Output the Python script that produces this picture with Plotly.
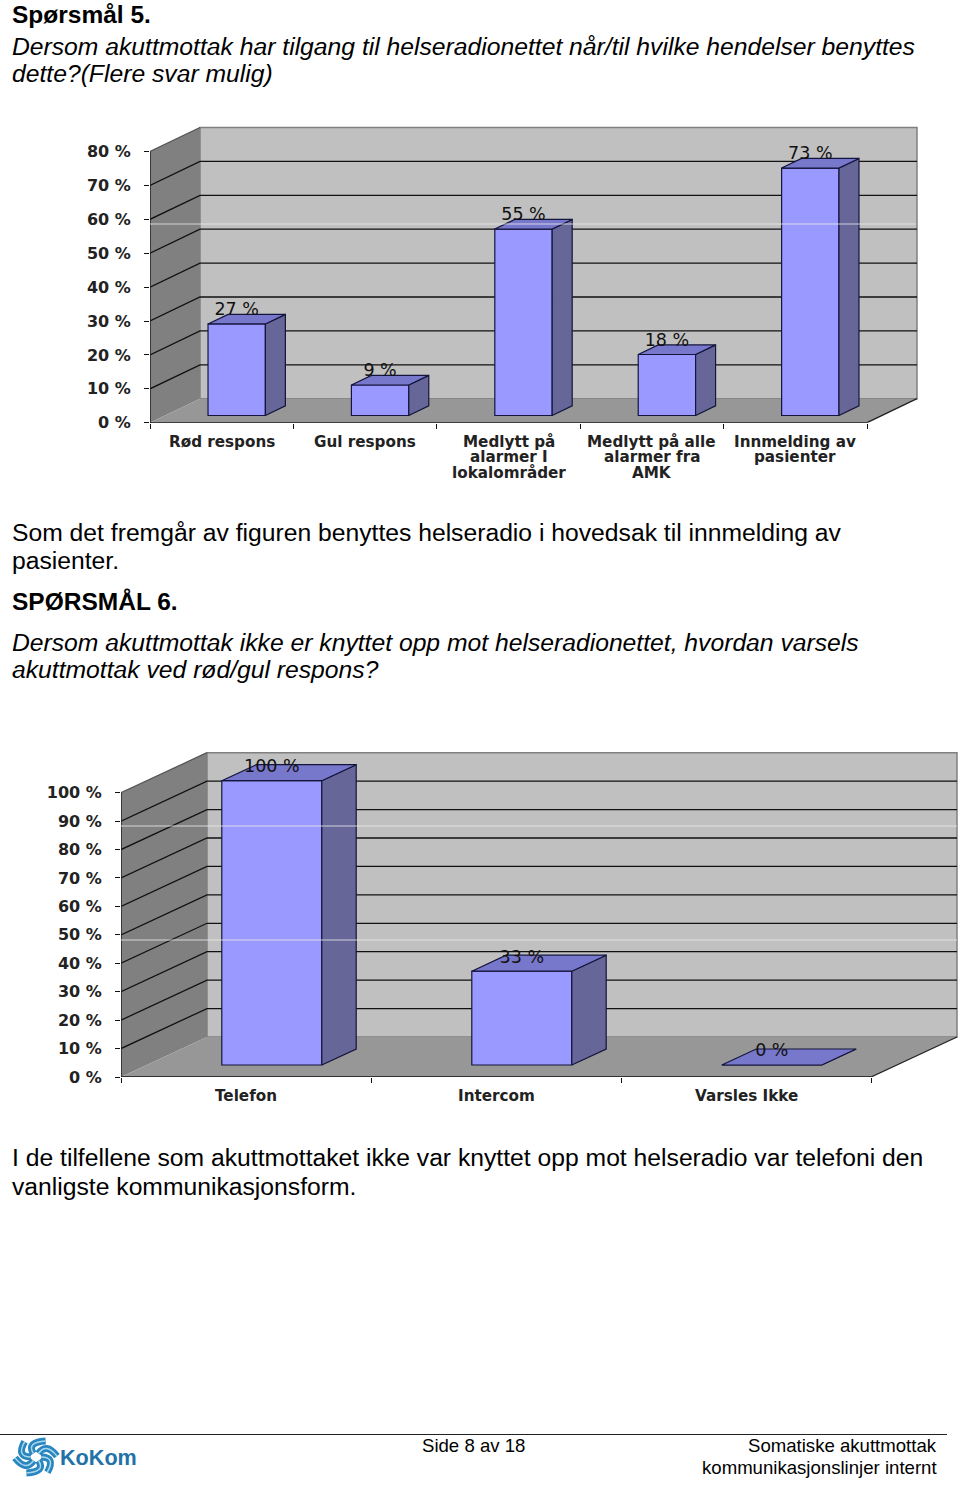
import math
import plotly.graph_objects as go

# chart data
q5_categories = ["Rød respons", "Gul respons", "Medlytt på<br>alarmer I<br>lokalområder",
                 "Medlytt på alle<br>alarmer fra<br>AMK", "Innmelding av<br>pasienter"]
q5_values = [27, 9, 55, 18, 73]
q5_ticks = [0, 10, 20, 30, 40, 50, 60, 70, 80]

q6_categories = ["Telefon", "Intercom", "Varsles Ikke"]
q6_values = [100, 33, 0]
q6_ticks = [0, 10, 20, 30, 40, 50, 60, 70, 80, 90, 100]

# page texts (text, x, y, anchor, bold, italic, size)
page_texts = [
    ("Spørsmål 5.", 12, 15, "left", True, False, 24.5),
    ("Dersom akuttmottak har tilgang til helseradionettet når/til hvilke hendelser benyttes", 12, 46, "left", False, True, 24.7),
    ("dette?(Flere svar mulig)", 12, 74, "left", False, True, 24.7),
    ("Som det fremgår av figuren benyttes helseradio i hovedsak til innmelding av", 12, 532, "left", False, False, 24.7),
    ("pasienter.", 12, 560, "left", False, False, 24.7),
    ("SPØRSMÅL 6.", 12, 601, "left", True, False, 24.5),
    ("Dersom akuttmottak ikke er knyttet opp mot helseradionettet, hvordan varsels", 12, 642, "left", False, True, 24.7),
    ("akuttmottak ved rød/gul respons?", 12, 670, "left", False, True, 24.7),
    ("I de tilfellene som akuttmottaket ikke var knyttet opp mot helseradio var telefoni den", 12, 1157, "left", False, False, 24.7),
    ("vanligste kommunikasjonsform.", 12, 1186, "left", False, False, 24.7),
    ("Side 8 av 18", 422, 1445, "left", False, False, 18.6),
    ("Somatiske akuttmottak", 937, 1445, "right", False, False, 18.6),
    ("kommunikasjonslinjer internt", 937, 1467, "right", False, False, 18.6),
]

W = 960
H = 1485
FRONT = "#9999FF"
SIDE = "#666699"
TOP = "#7777CC"
EDGE = "#14143C"

fig = go.Figure()
shapes = []
annotations = []


# one pseudo 3d column chart, depth is given in pixels and turned into axis units
def chart3d(n, categories, values, ticks, top, left_px, cat_px, zero_px, pct_px, top_px,
            depth_x_px, depth_y_px, glare_px, right_px):
    k = "" if n == 1 else str(n)
    xr = "x" + k
    yr = "y" + k
    count = len(categories)
    dx = depth_x_px / cat_px
    dy = depth_y_px / pct_px

    # back wall, side wall and floor
    shapes.append(dict(type="path", xref=xr, yref=yr, layer="below", fillcolor="#C0C0C0",
                       line=dict(color="#808080", width=1.5),
                       path=f"M{dx},{dy} L{count + dx},{dy} L{count + dx},{top + dy} L{dx},{top + dy} Z"))
    shapes.append(dict(type="path", xref=xr, yref=yr, layer="below", fillcolor="#808080",
                       line=dict(color="#808080", width=0),
                       path=f"M0,0 L{dx},{dy} L{dx},{top + dy} L0,{top} Z"))
    shapes.append(dict(type="path", xref=xr, yref=yr, layer="below", fillcolor="#979797",
                       line=dict(color="#808080", width=0),
                       path=f"M0,0 L{count},0 L{count + dx},{dy} L{dx},{dy} Z"))

    # gridlines run along side wall and back wall
    for t in ticks[1:]:
        line_color = "#555555" if t == ticks[-1] else "#111111"
        path = f"M0,{t} L{dx},{t + dy}"
        if t != ticks[-1]:
            path += f" L{count + dx},{t + dy}"
        shapes.append(dict(type="path", xref=xr, yref=yr, layer="below",
                           line=dict(color=line_color, width=1.3), path=path))
    shapes.append(dict(type="line", xref=xr, yref=yr, layer="below", x0=0, x1=0, y0=0, y1=top,
                       line=dict(color="#222222", width=1.5)))
    shapes.append(dict(type="line", xref=xr, yref=yr, layer="below", x0=0, x1=count, y0=0, y1=0,
                       line=dict(color="#111111", width=1.5)))
    shapes.append(dict(type="line", xref=xr, yref=yr, layer="below", x0=count, x1=count + dx, y0=0, y1=dy,
                       line=dict(color="#222222", width=1.3)))

    # bars start 30 % into the floor and are 40 % deep
    centers = [i + 0.5 + 0.3 * dx for i in range(count)]
    bases = [0.3 * dy for _ in values]
    fig.add_trace(go.Bar(x=centers, y=values, base=bases, width=0.4, xaxis=xr, yaxis=yr,
                         marker=dict(color=FRONT, line=dict(color=EDGE, width=1.2)),
                         showlegend=False))

    # side and top faces
    side_x, side_y, top_x, top_y = [], [], [], []
    for c, v, b in zip(centers, values, bases):
        x1 = c + 0.2
        x0 = c - 0.2
        side_x += [x1, x1 + 0.4 * dx, x1 + 0.4 * dx, x1, x1, None]
        side_y += [b, b + 0.4 * dy, b + v + 0.4 * dy, b + v, b, None]
        top_x += [x0, x1, x1 + 0.4 * dx, x0 + 0.4 * dx, x0, None]
        top_y += [b + v, b + v, b + v + 0.4 * dy, b + v + 0.4 * dy, b + v, None]
    for fx, fy, color in [(side_x, side_y, SIDE), (top_x, top_y, TOP)]:
        fig.add_trace(go.Scatter(x=fx, y=fy, mode="lines", fill="toself", fillcolor=color,
                                 line=dict(color=EDGE, width=1.2), xaxis=xr, yaxis=yr,
                                 showlegend=False, hoverinfo="skip"))

    # value labels
    fig.add_trace(go.Scatter(x=centers, y=[b + v + 13 / pct_px for b, v in zip(bases, values)],
                             mode="text", text=[f"{v} %" for v in values],
                             textfont=dict(family="DejaVu Sans", size=17.5, color="#111111"),
                             xaxis=xr, yaxis=yr, showlegend=False, hoverinfo="skip"))

    # category labels, one annotation for each line to get the tight line spacing
    for i, label in enumerate(categories):
        for j, part in enumerate(label.split("<br>")):
            annotations.append(dict(x=i + 0.5, xref=xr, y=1 - (zero_px + 19 + 15.5 * j) / H, yref="paper",
                                    text=part, showarrow=False, xanchor="center", yanchor="middle",
                                    font=dict(family="DejaVu Sans", size=15.2, color="#222222", weight="bold")))

    # light streak across the chart
    for g in glare_px:
        shapes.append(dict(type="line", xref="paper", yref="paper", layer="above",
                           x0=left_px / W, x1=right_px / W, y0=1 - g / H, y1=1 - g / H,
                           line=dict(color="rgba(235,235,235,0.8)", width=1)))

    fig.update_layout({
        "xaxis" + k: dict(domain=[left_px / W, 1], range=[0, (W - left_px) / cat_px], anchor=yr, automargin=False,
                          tickvals=list(range(count + 1)), showticklabels=False, ticks="outside",
                          ticklen=5, tickcolor="#111111", showgrid=False, zeroline=False, showline=False),
        "yaxis" + k: dict(domain=[1 - zero_px / H, 1 - top_px / H], range=[0, (zero_px - top_px) / pct_px], anchor=xr,
                          automargin=False, tickvals=ticks, ticktext=[f"{t} %" for t in ticks], ticks="outside",
                          ticklen=5, tickcolor="#111111", showgrid=False, zeroline=False, showline=False,
                          ticklabelstandoff=10,
                          tickfont=dict(family="DejaVu Sans", size=16, color="#222222", weight="bold")),
    })


chart3d(1, q5_categories, q5_values, q5_ticks, 80, 150, 143.4, 422.7, 3.39, 120, 50, 24, [224], 916)
chart3d(2, q6_categories, q6_values, q6_ticks, 100, 121, 250, 1077, 2.843, 745, 86, 40, [826, 940], 957)

# page text
for text, x, y, anchor, bold, italic, size in page_texts:
    annotations.append(dict(x=x / W, xref="paper", y=1 - y / H, yref="paper", text=text, showarrow=False,
                            xanchor=anchor, yanchor="middle", xshift=-2 if anchor == "left" else 2,
                            font=dict(family="Liberation Sans", size=size, color="#000000",
                                      weight="bold" if bold else "normal",
                                      style="italic" if italic else "normal")))

# footer rule and logo
shapes.append(dict(type="line", xref="paper", yref="paper", x0=0, x1=947 / W, y0=1 - 1434.5 / H, y1=1 - 1434.5 / H,
                   line=dict(color="#222222", width=1)))
annotations.append(dict(x=60 / W, xref="paper", y=1 - 1457 / H, yref="paper", text="KoKom", showarrow=False,
                        xanchor="left", yanchor="middle", xshift=-2,
                        font=dict(family="Liberation Sans", size=21.6, color="#2272A8", weight="bold")))
for i in range(6):
    a = i * math.pi / 3
    b = a + 1.0
    cx, cy = 36, 1457
    x0, y0 = cx + 5 * math.cos(a), cy + 4 * math.sin(a)
    x1, y1 = cx + 21 * math.cos(b), cy + 18 * math.sin(b)
    xm, ym = cx + 20 * math.cos(a), cy + 17 * math.sin(a)
    path = f"M{x0 / W},{1 - y0 / H} Q{xm / W},{1 - ym / H} {x1 / W},{1 - y1 / H}"
    shapes.append(dict(type="path", xref="paper", yref="paper", path=path, line=dict(color="#2A86BE", width=7)))
    shapes.append(dict(type="path", xref="paper", yref="paper", path=path, line=dict(color="#A8D8EE", width=1.5)))

fig.update_layout(width=W, height=H, margin=dict(l=0, r=0, t=0, b=0), plot_bgcolor="white",
                  paper_bgcolor="white", shapes=shapes, annotations=annotations, showlegend=False,
                  barmode="overlay")

fig.write_html("out.html", config={"displayModeBar": False},
               post_script="document.documentElement.style.overflow='hidden';document.body.style.margin='0';"
                           "var gd=document.getElementById('{plot_id}');gd.style.position='fixed';gd.style.left='0';gd.style.top='0';")
